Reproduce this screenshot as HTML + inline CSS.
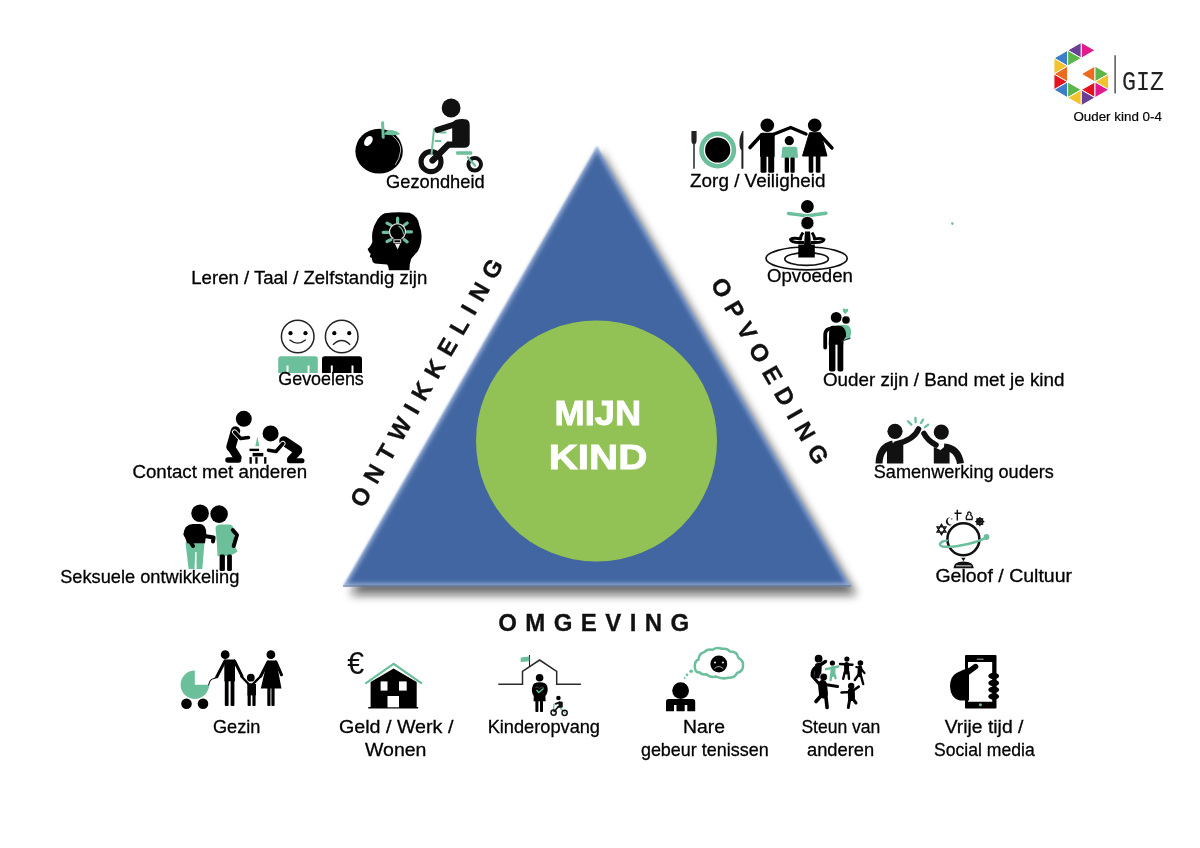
<!DOCTYPE html>
<html><head><meta charset="utf-8">
<style>
html,body{margin:0;padding:0;background:#fff;}
body{width:1200px;height:848px;overflow:hidden;position:relative;}
svg{position:absolute;left:0;top:0;will-change:transform;}
text{font-family:"Liberation Sans",sans-serif;fill:#000;}
.lb{font-size:18.5px;}
.lb text{stroke:#000;stroke-width:0.3px;}
</style></head><body>
<svg width="1200" height="848" viewBox="0 0 1200 848">
<defs>
<filter id="sh" x="-20%" y="-20%" width="140%" height="140%">
<feGaussianBlur stdDeviation="5"/>
</filter>
<filter id="soft" x="-10%" y="-10%" width="120%" height="120%">
<feGaussianBlur stdDeviation="2"/>
</filter>
<filter id="edge" x="-10%" y="-10%" width="120%" height="120%">
<feGaussianBlur stdDeviation="0.9"/>
</filter>
<clipPath id="triclip"><polygon points="597,146 851,586 343,586"/></clipPath>
</defs>

<!-- triangle shadow -->
<polygon points="601,152 857,595 350,595" fill="#0a0908" opacity="0.6" filter="url(#sh)"/>
<!-- triangle -->
<polygon points="597,146 851,586 343,586" fill="#94acd5" filter="url(#edge)"/>
<g clip-path="url(#triclip)">
<polygon points="597,151.5 846.2,583.2 347.8,583.2" fill="#4266a1" filter="url(#soft)"/>
</g>
<line x1="343" y1="586" x2="851" y2="586" stroke="#5a6f95" stroke-width="1.2"/>

<!-- circle -->
<circle cx="596.5" cy="441" r="120.5" fill="#92c255"/>
<text x="597.8" y="424.8" text-anchor="middle" style="font-size:35px;font-weight:bold;fill:#fff;stroke:#fff;stroke-width:0.9px" textLength="86.5" lengthAdjust="spacingAndGlyphs">MIJN</text>
<text x="598" y="469.3" text-anchor="middle" style="font-size:35px;font-weight:bold;fill:#fff;stroke:#fff;stroke-width:0.9px" textLength="98.5" lengthAdjust="spacingAndGlyphs">KIND</text>

<!-- side labels -->
<text x="0" y="0" transform="translate(363.2,509.1) rotate(-60)" style="font-size:24px;font-weight:bold;fill:#111;stroke:#111;stroke-width:0.3px" textLength="282" lengthAdjust="spacing">ONTWIKKELING</text>
<text x="0" y="0" transform="translate(710.1,283.65) rotate(60)" style="font-size:24px;font-weight:bold;fill:#111;stroke:#111;stroke-width:0.3px" textLength="211" lengthAdjust="spacing">OPVOEDING</text>
<text x="498.2" y="631" style="font-size:24px;font-weight:bold;fill:#111;stroke:#111;stroke-width:0.3px" textLength="191" lengthAdjust="spacing">OMGEVING</text>


<!-- GIZ logo -->
<text x="1073.4" y="120.8" style="font-size:13px;stroke:#000;stroke-width:0.2px" textLength="88.5" lengthAdjust="spacingAndGlyphs">Ouder kind 0-4</text>
<text x="1122" y="89.6" style="font-family:'Liberation Mono',monospace;font-size:27px;fill:#222" textLength="42" lengthAdjust="spacingAndGlyphs">GIZ</text>
<line x1="1115.1" y1="55.2" x2="1115.1" y2="93.6" stroke="#3a3a3a" stroke-width="1.3"/>

<circle cx="952.4" cy="223.6" r="1.3" fill="#6bbf9b"/>

<!-- ===== LEFT ICONS ===== -->
<!-- apple -->
<g>
<ellipse cx="379.1" cy="151.2" rx="23.7" ry="22.4" fill="#000"/>
<ellipse cx="368.4" cy="141" rx="3.6" ry="5.6" transform="rotate(35 368.4 141)" fill="#fff"/>
<path d="M392.5,135.7 Q401.5,143 400.6,151 Q399.5,159.5 395.2,164.8" fill="none" stroke="#fff" stroke-width="0.7"/>
<path d="M382.6,122.7 L383.2,137.2" stroke="#6bbf9b" stroke-width="3" stroke-linecap="round"/>
<path d="M384,134.5 Q386,129.5 392,130 Q397,131 400.5,134.3 Q393,136 384,134.5 Z" fill="#6bbf9b"/>
</g>
<!-- tricycle kid -->
<g>
<circle cx="451.1" cy="108" r="9.4" fill="#111"/>
<circle cx="431" cy="161.7" r="10" fill="none" stroke="#111" stroke-width="5.2"/>
<circle cx="474.7" cy="164.3" r="6.3" fill="none" stroke="#111" stroke-width="4"/>
<path d="M434,129 L431.5,154.2 M435.6,141.1 L440.6,141.1 M440,132.6 L445.6,132.6" stroke="#6bbf9b" stroke-width="2" stroke-linecap="round"/>
<path d="M467.7,157.2 L475.2,165.7" stroke="#6bbf9b" stroke-width="2.2" stroke-linecap="round"/>
<rect x="456.1" y="151.2" width="16.1" height="3.6" rx="1" fill="#6bbf9b"/>
<path d="M437.5,129.8 L462,122" stroke="#111" stroke-width="6" stroke-linecap="round"/>
<path d="M452.2,126 Q452.2,119.3 459,119.3 L464.5,119.3 Q469.7,119.3 469.7,125 L469.7,143 Q469.7,147.8 464,147.8 L447,147.8 L447,141.5 L452.2,141.5 Z" fill="#111"/>
<path d="M448,145 L432.5,160.5" stroke="#111" stroke-width="6.3" stroke-linecap="round"/>
</g>
<!-- head with bulb -->
<g>
<path d="M384.8,213.3 Q397,211.5 409.5,212.8 Q418.5,216.5 419.4,225.6 Q422,232 421.5,238 Q421,246 417.8,251.2 Q414,255.5 411.2,258.7 Q409.3,264 409.5,270.2 L388.9,270.2 Q388.5,266 387.2,264.4 Q380,264 374.9,263.6 Q372.4,262.5 372.4,261.1 L371.6,257.8 Q369.5,257 369.9,256.2 L370.7,253.7 Q368.8,252.5 368.7,251.2 Q367.5,249.5 367.8,248.8 Q369.5,247 370.7,245.4 Q372.3,243.5 372.4,241.3 Q371.8,236 372.4,232.2 Q373.5,225.5 376.5,221.5 Q379.5,215.5 384.8,213.3 Z" fill="#000"/>
<g stroke="#6bbf9b" stroke-width="3.2" stroke-linecap="round">
<path d="M397.6,218.2 L397.6,222.6 M387,223.2 L390.9,225.2 M407.2,223 L404.2,225.2 M383.2,232.3 L387.8,232.3 M406.8,231.8 L411.5,231.8 M387,241.5 L390.9,239.6 M407.2,241.9 L404.2,239.6"/>
</g>
<path d="M393.5,238.7 A8,8 0 1 1 401.5,238.7" fill="none" stroke="#e4e4e4" stroke-width="1.2"/>
<rect x="393.9" y="239.8" width="6.8" height="2.9" fill="#000" stroke="#e4e4e4" stroke-width="1"/>
<path d="M394.9,243.8 L400.3,243.8 L397.6,249.6 Z" fill="#f2f2f2"/>
<path d="M398.5,226 Q403,228.5 403.5,234.5" fill="none" stroke="#6bbf9b" stroke-width="1.1"/>
</g>
<!-- gevoelens -->
<g fill="none" stroke="#222" stroke-width="1.5">
<circle cx="297.7" cy="336.5" r="16.3"/>
<circle cx="341.7" cy="336.5" r="16.3"/>
<path d="M289.5,339.8 Q297.7,346.5 305.8,339.8" stroke-width="1.4"/>
<path d="M333,344.8 Q341.7,336.3 350.2,344.8" stroke-width="1.4"/>
</g>
<g fill="#000">
<circle cx="290.5" cy="333.2" r="2.1"/><circle cx="305.5" cy="333.2" r="2.1"/>
<circle cx="334.3" cy="333.2" r="2.1"/><circle cx="349.2" cy="333.2" r="2.1"/>
</g>
<path d="M278.2,373.1 L278.2,359 Q278.2,356.2 281,356.2 L315,356.2 Q317.8,356.2 317.8,359 L317.8,373.1 L309.5,373.1 L309.5,365.5 L307.6,365.5 L307.6,373.1 L288.5,373.1 L288.5,365.5 L286.5,365.5 L286.5,373.1 Z" fill="#6bbf9b"/>
<path d="M322,373.1 L322,359 Q322,356.2 324.8,356.2 L359.2,356.2 Q362,356.2 362,359 L362,373.1 L353.5,373.1 L353.5,365.5 L351.5,365.5 L351.5,373.1 L332.8,373.1 L332.8,365.5 L330.8,365.5 L330.8,373.1 Z" fill="#000"/>
<!-- contact met anderen -->
<g>
<circle cx="243.8" cy="418.8" r="8" fill="#000"/>
<circle cx="270.6" cy="433.4" r="8" fill="#000"/>
<path d="M235.5,431 L231,447" stroke="#000" stroke-width="9.5" stroke-linecap="round"/>
<path d="M231.5,448 L237.5,457.5" stroke="#000" stroke-width="8" stroke-linecap="round"/>
<path d="M238.5,460 L228,460" stroke="#000" stroke-width="5.5" stroke-linecap="round"/>
<path d="M234.6,432 L240.7,438.5 L248.5,437.6" fill="none" stroke="#fff" stroke-width="5.2" stroke-linecap="round" stroke-linejoin="round"/>
<path d="M234.6,432 L240.7,438.5 L248.5,437.6" fill="none" stroke="#000" stroke-width="3.5" stroke-linecap="round" stroke-linejoin="round"/>
<path d="M284,441 L297.5,450" stroke="#000" stroke-width="9.5" stroke-linecap="round"/>
<path d="M298,451.5 L291,459" stroke="#000" stroke-width="7.5" stroke-linecap="round"/>
<path d="M289.5,460.8 L302,460.8" stroke="#000" stroke-width="5" stroke-linecap="round"/>
<path d="M282.9,443.5 L276,451.5 L268.5,450.2" fill="none" stroke="#fff" stroke-width="5.2" stroke-linecap="round" stroke-linejoin="round"/>
<path d="M282.9,443.5 L276,451.5 L268.5,450.2" fill="none" stroke="#000" stroke-width="3.5" stroke-linecap="round" stroke-linejoin="round"/>
<rect x="249.5" y="448.7" width="9.6" height="2.4" fill="#000"/>
<rect x="252.6" y="452.9" width="10.7" height="3.5" fill="#000"/>
<rect x="249.5" y="457.1" width="2.3" height="6.6" fill="#000"/>
<rect x="255.3" y="457.1" width="2.3" height="6.6" fill="#000"/>
<rect x="264.1" y="457.1" width="2.3" height="6.6" fill="#000"/>
<path d="M257.3,436.4 L259.4,446.2 L255.4,446.2 Z" fill="#6bbf9b"/>
</g>
<!-- seksuele ontwikkeling -->
<g>
<path d="M185.5,542.4 L204.5,542.4 L202.3,569 L196.6,569 L196.6,552 L195.2,552 L194.5,569 L188.6,569 Z" fill="#6bbf9b"/>
<circle cx="200.1" cy="513.3" r="8.8" fill="#000"/>
<circle cx="219.1" cy="514.1" r="8.8" fill="#000"/>
<path d="M215.5,528 Q216,524.5 220.5,524.5 L229,524.5 Q233,524.8 233.5,528.5 L234.5,545 L237.5,551.5 Q232,556 224,556.2 L217.5,556 Q216.8,540 215.5,528 Z" fill="#6bbf9b"/>
<path d="M232.8,530 L237,535 L233.7,546" fill="none" stroke="#000" stroke-width="4" stroke-linecap="round" stroke-linejoin="round"/>
<rect x="219.6" y="554.5" width="5.3" height="16.5" rx="1.5" fill="#000"/>
<rect x="227.1" y="554.5" width="4.8" height="16.5" rx="1.5" fill="#000"/>
<path d="M183.3,534.5 Q184.5,524 193,523.9 L200,523.9 Q206.3,524.5 206.3,533.6 L205,543.3 L187,543.3 Q186,538 183.3,534.5 Z" fill="#000"/>
<path d="M186.5,536 L193,546" stroke="#000" stroke-width="4" stroke-linecap="round"/>
<path d="M204.5,536 L213.6,537.4 L213,541.5" fill="none" stroke="#000" stroke-width="4" stroke-linecap="round" stroke-linejoin="round"/>
</g>
<!-- ===== RIGHT ICONS ===== -->
<!-- zorg / veiligheid -->
<g>
<path d="M691.4,131 L696.6,131 L696.6,140 Q696.6,144 694,144.5 Q691.4,144 691.4,140 Z" fill="#222"/>
<rect x="693.2" y="143" width="1.6" height="25.7" fill="#333"/>
<circle cx="717.7" cy="150" r="16.2" fill="none" stroke="#6bbf9b" stroke-width="4.6"/>
<circle cx="717.7" cy="150" r="12.6" fill="#000"/>
<path d="M742.4,131 Q739,137 739.5,145 Q740,149.5 741.4,150 L741.4,168.7 L743.4,168.7 L743.4,131 Z" fill="#222"/>
<circle cx="767.3" cy="125.3" r="6.8" fill="#000"/>
<circle cx="814.7" cy="125.3" r="6.8" fill="#000"/>
<circle cx="789.3" cy="140.7" r="4.6" fill="#000"/>
<path d="M760,134.5 Q760,132.7 762,132.7 L772.7,132.7 Q774.7,132.7 774.7,134.5 L774.7,156.7 L760,156.7 Z" fill="#000"/>
<rect x="760.5" y="155" width="6" height="17.7" rx="1.5" fill="#000"/>
<rect x="768.2" y="155" width="6" height="17.7" rx="1.5" fill="#000"/>
<path d="M761,135.5 L750,147.5" stroke="#000" stroke-width="3.6" stroke-linecap="round"/>
<path d="M773,134.5 L790.7,127.5 L806,134" fill="none" stroke="#000" stroke-width="3.4" stroke-linecap="round" stroke-linejoin="round"/>
<path d="M809.5,132.7 L820.5,132.7 L827,156 L802.5,156 Z" fill="#000" stroke="#000" stroke-width="1" stroke-linejoin="round"/>
<rect x="808.7" y="154" width="4.6" height="18.7" rx="1.5" fill="#000"/>
<rect x="815.8" y="154" width="4.6" height="18.7" rx="1.5" fill="#000"/>
<path d="M820,135 L832,148" stroke="#000" stroke-width="3.4" stroke-linecap="round"/>
<path d="M782.3,148 Q782.3,146.7 784,146.7 L795,146.7 Q796.8,146.7 797.2,148 L798,157.8 L781.3,157.8 Z" fill="#6bbf9b"/>
<rect x="784.7" y="157.5" width="4.3" height="15.2" rx="1" fill="#000"/>
<rect x="790.4" y="157.5" width="4.3" height="15.2" rx="1" fill="#000"/>
</g>
<!-- opvoeden -->
<g>
<ellipse cx="806.6" cy="258.4" rx="40.6" ry="11.4" fill="none" stroke="#111" stroke-width="1.7"/>
<ellipse cx="806.6" cy="259" rx="21.8" ry="6.4" fill="none" stroke="#111" stroke-width="1.7"/>
<circle cx="807.4" cy="206.5" r="6.4" fill="#000"/>
<path d="M788.5,213.5 Q798,214.5 807,216 Q816,214.5 826,213.3" fill="none" stroke="#6bbf9b" stroke-width="3.4" stroke-linecap="round"/>
<circle cx="807.4" cy="223" r="6.6" fill="#000" stroke="#fff" stroke-width="0.8"/>
<rect x="798.3" y="244.5" width="16.5" height="13" fill="#000"/>
<path d="M805,231.5 L810,231.5 L811,245 L804,245 Z" fill="#000"/>
<path d="M803,232.5 Q800.5,236 800.5,239 Q793,237.5 790.5,239.5 Q791,242.5 800,242.5 L804,242.5" fill="none" stroke="#000" stroke-width="3" stroke-linejoin="round"/>
<path d="M812,232.5 Q814.5,236 814.5,239 Q822,237.5 824,239.5 Q823.5,242.5 815,242.5 L811,242.5" fill="none" stroke="#000" stroke-width="3" stroke-linejoin="round"/>
</g>
<!-- ouder zijn -->
<g>
<circle cx="836.2" cy="317.4" r="5.4" fill="#000"/>
<path d="M845,314 C842.5,311.5 842,309 844,308.6 C845,308.4 845.5,309.2 845.7,309.6 C846.2,309 847,308.5 847.8,309 C849.2,310 847.5,312.5 845,314 Z" fill="#6bbf9b"/>
<path d="M836.5,325.5 Q842,324 848,325.5 Q851.8,328 851,334 L849.5,339.5 L842.5,340.5 Z" fill="#6bbf9b"/>
<circle cx="846" cy="320" r="4.1" fill="#000" stroke="#fff" stroke-width="0.6"/>
<path d="M829.3,328.5 Q829.8,325.8 832.5,325.8 L838.5,325.8 Q842.8,326 843.5,331 L843.5,344.8 L828.7,344.8 Z" fill="#000"/>
<path d="M841,327.5 Q845,330 844.5,336 L841.5,340" fill="none" stroke="#000" stroke-width="3" stroke-linecap="round"/>
<path d="M828.8,329 Q825,330 825.2,336 L825.2,347.5" fill="none" stroke="#000" stroke-width="3.8" stroke-linecap="round"/>
<rect x="829" y="343" width="6.4" height="28.4" rx="2" fill="#000"/>
<rect x="837.5" y="343" width="5.8" height="28.4" rx="2" fill="#000"/>
<path d="M841.5,341.2 L850.5,338" stroke="#333" stroke-width="1.2"/>
</g>
<!-- samenwerking -->
<g>
<circle cx="895" cy="431.3" r="7.6" fill="#111"/>
<circle cx="941.3" cy="432.1" r="7.6" fill="#111"/>
<path d="M887,444.5 L903.3,442 L903.3,463.5 L887,463.5 Z" fill="#111"/>
<path d="M879,463.5 Q879.5,447 893,443.8" fill="none" stroke="#111" stroke-width="7"/>
<path d="M896,444 Q914,440 918.5,429" fill="none" stroke="#111" stroke-width="5.6" stroke-linecap="round"/>
<path d="M924,433.5 Q927.5,440.5 936,445" fill="none" stroke="#111" stroke-width="5.6" stroke-linecap="round"/>
<path d="M933.8,447 L940.5,450 L946,445.5 L949.6,446.5 L949.6,463.5 L933.8,463.5 Z" fill="#111"/>
<path d="M944,447 Q958,448 960.5,463.5" fill="none" stroke="#111" stroke-width="7"/>
<g stroke="#6bbf9b" stroke-width="2.3" stroke-linecap="round">
<path d="M908,421.2 L911.4,424.6 M915.4,418 L915.7,422.2 M923,419.6 L921,423 M928.3,424.6 L924.9,427.2"/>
</g>
</g>
<!-- geloof -->
<g>
<circle cx="963.4" cy="539.2" r="16" fill="none" stroke="#111" stroke-width="2.5"/>
<path d="M942.3,541.6 Q937.5,545 942.5,546.5 Q950,548 968,544 Q980,541 986.5,537.4" fill="none" stroke="#6bbf9b" stroke-width="2.4" stroke-linecap="round"/>
<path d="M942.3,541.6 L947,540.5" stroke="#6bbf9b" stroke-width="2.2" stroke-linecap="round"/>
<circle cx="986.5" cy="537" r="2.9" fill="#6bbf9b"/>
<path d="M961.2,557.8 L965.6,557.8 L963.4,561.3 Z" fill="#111"/>
<path d="M953.5,568.3 Q953.5,561.5 963.4,561.5 Q973.8,561.5 973.8,568.3 Z" fill="#111"/>
<rect x="956" y="565.3" width="15.3" height="1.1" fill="#fff" opacity="0.8"/>
<g fill="none" stroke="#111" stroke-width="1.3">
<path d="M941.5,524.4 L946,532.1 L937,532.1 Z M941.5,534.6 L946,526.9 L937,526.9 Z"/>
</g>
<path d="M950.5,517.5 A4,4 0 1 0 952.3,524.6 A3.2,3.2 0 1 1 950.5,517.5 Z" fill="#111"/>
<circle cx="951.8" cy="518.9" r="0.6" fill="#111"/>
<path d="M957.3,509.7 L957.3,520.4 M954.5,513.3 L961.6,513.3" stroke="#111" stroke-width="1.4"/>
<path d="M966.5,519.5 Q965.5,516 968,514.5 Q967,512 969.5,512 Q972,513 970.5,515 Q973,516 972,519.5 Z" fill="none" stroke="#111" stroke-width="1.3"/>
<circle cx="979.8" cy="521.6" r="3" fill="none" stroke="#111" stroke-width="1.6"/>
<g stroke="#111" stroke-width="1.2"><path d="M979.8,517 L979.8,526.2 M975.2,521.6 L984.4,521.6 M976.5,518.3 L983.1,524.9 M983.1,518.3 L976.5,524.9"/></g>
</g>
<!-- ===== BOTTOM ICONS ===== -->
<!-- gezin -->
<g>
<path d="M194.8,684.8 L194.8,670.6 A14.2,14.2 0 1 0 209,684.8 Z" fill="#6bbf9b"/>
<circle cx="186.5" cy="703.7" r="5.3" fill="#000"/>
<circle cx="203" cy="703.7" r="5.3" fill="#000"/>
<path d="M208.6,685.5 Q209.5,679 214,678.5 Q215.5,677.8 216.6,677.2" fill="none" stroke="#000" stroke-width="1.1"/>
<circle cx="225.2" cy="654.7" r="4.4" fill="#000"/>
<path d="M224.3,659.5 L235,659.5 L235,681.3 L224.3,681.3 Z" fill="#000"/>
<path d="M225,661 L216.8,676.8" stroke="#000" stroke-width="3" stroke-linecap="round"/>
<path d="M234.5,661 L242,676.2" stroke="#000" stroke-width="3" stroke-linecap="round"/>
<rect x="224.8" y="680" width="3.8" height="26" rx="1" fill="#000"/>
<rect x="230.6" y="680" width="3.8" height="26" rx="1" fill="#000"/>
<circle cx="250.8" cy="677.7" r="3.9" fill="#000"/>
<path d="M241.5,676.5 L249,684.5 L252.5,684.5 L260.5,676.5" fill="none" stroke="#000" stroke-width="2.4" stroke-linecap="round" stroke-linejoin="round"/>
<rect x="247.3" y="684" width="8.7" height="11.4" fill="#000"/>
<rect x="247.6" y="694" width="3.2" height="12" rx="0.8" fill="#000"/>
<rect x="252.4" y="694" width="3.2" height="12" rx="0.8" fill="#000"/>
<circle cx="270.9" cy="654.7" r="4.4" fill="#000"/>
<path d="M267.3,660.6 L276.2,660.6 L281.5,688.4 L260.8,688.4 Z" fill="#000"/>
<path d="M268,662 L260.8,676" stroke="#000" stroke-width="3" stroke-linecap="round"/>
<path d="M276,662 L281.5,674.8" stroke="#000" stroke-width="3" stroke-linecap="round"/>
<rect x="267.3" y="687" width="3.2" height="19" rx="0.8" fill="#000"/>
<rect x="271.4" y="687" width="3.2" height="19" rx="0.8" fill="#000"/>
</g>
<!-- geld / werk / wonen -->
<g>
<text x="347.2" y="673.6" style="font-size:30.5px;fill:#111">€</text>
<path d="M365.3,683.7 L393.6,663.8 L422,683.7" fill="none" stroke="#6bbf9b" stroke-width="2.2" stroke-linejoin="miter"/>
<path d="M370.6,682 L393.6,668.4 L416.7,682 L416.7,707 L418.2,707 L418.2,708.5 L368.3,708.5 L368.3,707 L370.6,707 Z" fill="#000"/>
<rect x="380.6" y="681.4" width="6.9" height="9.2" fill="#fff"/>
<rect x="399" y="681.4" width="7.7" height="9.2" fill="#fff"/>
<rect x="387.5" y="696" width="11.5" height="11.3" fill="#fff"/>
</g>
<!-- kinderopvang -->
<g>
<path d="M498.3,684.2 L522.5,684.2 L522.5,671.3 L539.6,660 L556.7,671.3 L556.7,684.2 L580.9,684.2" fill="none" stroke="#2a2a2a" stroke-width="1.5"/>
<path d="M529.5,655 L529.5,666.5" stroke="#222" stroke-width="1.1"/>
<path d="M520.7,657.5 L529.3,656.5 L529.3,661.3 L520.7,662 Z" fill="#6bbf9b"/>
<circle cx="539.6" cy="677.7" r="3.8" fill="#000"/>
<path d="M532.5,686.5 Q533,682.2 539.6,682.2 Q546.5,682.2 547.3,686.5 Q548.5,691 546,695.4 L533.2,695.4 Q531,691 532.5,686.5 Z" fill="#000"/>
<path d="M533.8,695 L545.4,695 L545.6,701.3 L533.6,701.3 Z" fill="#000"/>
<rect x="535.4" y="700.5" width="3" height="11.5" rx="0.8" fill="#000"/>
<rect x="540" y="700.5" width="3" height="11.5" rx="0.8" fill="#000"/>
<path d="M535.5,687.5 Q537,686 539.6,688.5 Q542.5,686 544,687.5" fill="none" stroke="#555" stroke-width="0.8"/>
<path d="M536.5,690 L538.8,692.5 L543.5,688.5" fill="none" stroke="#6bbf9b" stroke-width="1.4"/>
<circle cx="558.4" cy="698" r="2.3" fill="#000"/>
<path d="M554,704.2 L553.3,711 M560.4,708.3 L565,712.8" stroke="#6bbf9b" stroke-width="1.3" stroke-linecap="round"/>
<circle cx="553.6" cy="712.6" r="2.6" fill="none" stroke="#111" stroke-width="1.5"/>
<circle cx="564.6" cy="712.8" r="2.6" fill="none" stroke="#111" stroke-width="1.5"/>
<path d="M555.6,703.8 L559.5,702.3" stroke="#111" stroke-width="1.8" stroke-linecap="round"/>
<path d="M558.5,703 Q558.5,701.6 560,701.6 L561.5,701.6 Q562.8,701.6 562.8,703 L562.8,706.4 Q562.8,707.8 561.5,707.8 L557.5,707.8 L557.5,706 L558.5,706 Z" fill="#111"/>
<path d="M558,707 L554.2,711.5" stroke="#111" stroke-width="1.6" stroke-linecap="round"/>
</g>
<!-- nare gebeurtenissen -->
<g>
<circle cx="680.6" cy="690.6" r="8.4" fill="#000"/>
<path d="M666,711.3 L666,701.5 Q666,699 668.5,699 L692.7,699 Q695.2,699 695.2,701.5 L695.2,711.3 L687.3,711.3 L687.3,705 L684.7,705 L684.7,711.3 L676.5,711.3 L676.5,705 L674,705 L674,711.3 Z" fill="#000"/>
<path d="M700,672.5 Q695,673 694.8,667 Q694.5,661 698.5,659.5 Q698.8,653.5 704.5,652 Q707,648.5 712.5,649.7 Q717,647 722,648.8 Q727.5,648 730,651.5 Q737.5,651.5 738.3,657.8 Q743.5,660.5 743,665.5 Q743.5,671 737,673 Q735,678 728,677.7 Q722,679.5 716,676.5 Q710,678 706.3,674.2 Q701.5,675 700,672.5 Z" fill="none" stroke="#6bbf9b" stroke-width="2.5"/>
<circle cx="691.1" cy="671.3" r="1.8" fill="#6bbf9b"/>
<circle cx="687" cy="674.8" r="1.4" fill="#6bbf9b"/>
<circle cx="684.7" cy="678" r="0.9" fill="#6bbf9b"/>
<circle cx="718.8" cy="664" r="8.4" fill="#000"/>
<circle cx="715" cy="662.5" r="1.1" fill="#ddd"/>
<circle cx="722.9" cy="662.5" r="1.1" fill="#ddd"/>
<path d="M714.5,668.6 Q718.8,664.5 723.3,668.6" fill="none" stroke="#bbb" stroke-width="0.9"/>
</g>
<!-- steun van anderen -->
<g stroke="#000" stroke-linecap="round" stroke-linejoin="round" fill="none">
<circle cx="818.6" cy="658.7" r="3.9" fill="#000" stroke="none"/>
<path d="M818.3,666.5 L817.6,675" stroke-width="7"/>
<path d="M818.6,666 L825.5,661.5" stroke-width="3.4"/>
<path d="M816.5,667 Q812,669 812.2,675.5" stroke-width="3.4"/>
<circle cx="832.4" cy="663" r="2.6" fill="#000" stroke="none"/>
<g stroke="#6bbf9b">
<path d="M826,669.2 L838.3,666.5" stroke-width="2.4"/>
<path d="M833,668.5 L832.8,674.5" stroke-width="5"/>
<path d="M831.2,674.5 L830.6,680 M834.5,674.5 L835.6,678.2" stroke-width="2.4"/>
</g>
<circle cx="846.9" cy="659.1" r="2.6" fill="#000" stroke="none"/>
<path d="M840,664 L852.5,664.7" stroke-width="2.4"/>
<path d="M846.6,664.5 L846.6,672" stroke-width="5"/>
<path d="M844.8,672 L843.2,678.8 M848.4,672 L849,678.8" stroke-width="2.4"/>
<circle cx="860.4" cy="663" r="2.8" fill="#000" stroke="none"/>
<path d="M860,667.5 L859.5,675" stroke-width="4.4"/>
<path d="M856.3,667 L860.5,668 L864.5,673.2" stroke-width="2.2"/>
<path d="M858.3,675 L854.8,680 M860.8,675 L863.2,684" stroke-width="2.4"/>
<circle cx="823.6" cy="677.1" r="3.9" fill="#000" stroke="#fff" stroke-width="0.7"/>
<path d="M812.4,676.3 L818.8,683.5 L837.6,686.6" stroke-width="3"/>
<path d="M822.5,684.5 L823.5,694" stroke-width="9"/>
<path d="M820.8,696 L816,701.5 M825.8,696 L827.1,707.5" stroke-width="3.6"/>
<circle cx="851.2" cy="686" r="3.2" fill="#000" stroke="none"/>
<path d="M841.5,692.5 L851,692 L858.8,686.7" stroke-width="2.6"/>
<path d="M851.3,691.5 L851.5,697.5" stroke-width="7"/>
<path d="M849.8,699 L848.3,707.5 M853,699 L856,703" stroke-width="3"/>
</g>
<!-- vrije tijd / social media -->
<g>
<path d="M965,656 Q965,655 966,655 L995.5,655 Q996.5,655 996.5,656 L996.5,707.5 Q996.5,708.5 995.5,708.5 L966,708.5 Q965,708.5 965,707.5 Z M968,662 L968,701.8 L992.2,701.8 L992.2,662 Z" fill="#000" fill-rule="evenodd"/>
<rect x="976.7" y="658.6" width="7" height="1.4" rx="0.7" fill="#777"/>
<circle cx="980.4" cy="704.8" r="1.5" fill="#6bbf9b"/>
<path d="M967.5,672.5 L975.6,666.5" stroke="#000" stroke-width="5.4" stroke-linecap="round"/>
<path d="M969,667.8 L969,700.5 L960,700.5 Q950.5,698.5 950,686.5 Q950,676.5 956.5,673 Q962,670 969,667.8 Z" fill="#000"/>
<g fill="#000">
<ellipse cx="993.7" cy="676" rx="5.4" ry="3.2"/>
<ellipse cx="993.7" cy="682.9" rx="5.4" ry="3.2"/>
<ellipse cx="993.7" cy="689.8" rx="5.4" ry="3.2"/>
<ellipse cx="993.7" cy="696.5" rx="5.4" ry="3.2"/>
</g>
</g>

<!-- ===== GIZ LOGO ===== -->
<g id="giz" stroke="#fff" stroke-width="1" stroke-linejoin="miter"><polygon points="1067.62,50.30 1067.62,66.10 1053.93,58.20" fill="#3d7ec6"/><polygon points="1053.93,58.20 1053.93,74.00 1067.62,66.10" fill="#f3c22c"/><polygon points="1067.62,66.10 1067.62,81.90 1053.93,74.00" fill="#ec6b1f"/><polygon points="1053.93,74.00 1053.93,89.80 1067.62,81.90" fill="#e3131f"/><polygon points="1067.62,81.90 1067.62,97.70 1053.93,89.80" fill="#3d7ec6"/><polygon points="1081.30,42.40 1081.30,58.20 1067.62,50.30" fill="#6c3f97"/><polygon points="1067.62,50.30 1067.62,66.10 1081.30,58.20" fill="#5cb64a"/><polygon points="1067.62,81.90 1067.62,97.70 1081.30,89.80" fill="#5cb64a"/><polygon points="1081.30,89.80 1081.30,105.60 1067.62,97.70" fill="#f3c22c"/><polygon points="1081.30,42.40 1081.30,58.20 1094.98,50.30" fill="#e31a8e"/><polygon points="1094.98,66.10 1094.98,81.90 1081.30,74.00" fill="#ec6b1f"/><polygon points="1094.98,81.90 1094.98,97.70 1081.30,89.80" fill="#e3131f"/><polygon points="1081.30,89.80 1081.30,105.60 1094.98,97.70" fill="#6c3f97"/><polygon points="1094.98,66.10 1094.98,81.90 1108.67,74.00" fill="#5cb64a"/><polygon points="1108.67,74.00 1108.67,89.80 1094.98,81.90" fill="#f3c22c"/><polygon points="1094.98,81.90 1094.98,97.70 1108.67,89.80" fill="#e31a8e"/></g>
<!-- labels -->
<g class="lb">
<text x="386.1" y="187.9" textLength="98.6" lengthAdjust="spacingAndGlyphs">Gezondheid</text>
<text x="191.3" y="284.0" textLength="236.0" lengthAdjust="spacingAndGlyphs">Leren / Taal / Zelfstandig zijn</text>
<text x="278.3" y="384.9" textLength="85.5" lengthAdjust="spacingAndGlyphs">Gevoelens</text>
<text x="132.4" y="478.1" textLength="174.8" lengthAdjust="spacingAndGlyphs">Contact met anderen</text>
<text x="60.2" y="583.1" textLength="179.2" lengthAdjust="spacingAndGlyphs">Seksuele ontwikkeling</text>
<text x="690.1" y="186.6" textLength="135.3" lengthAdjust="spacingAndGlyphs">Zorg / Veiligheid</text>
<text x="767.1" y="282.3" textLength="85.7" lengthAdjust="spacingAndGlyphs">Opvoeden</text>
<text x="822.9" y="385.6" textLength="241.5" lengthAdjust="spacingAndGlyphs">Ouder zijn / Band met je kind</text>
<text x="873.8" y="477.6" textLength="180.1" lengthAdjust="spacingAndGlyphs">Samenwerking ouders</text>
<text x="935.4" y="581.9" textLength="136.7" lengthAdjust="spacingAndGlyphs">Geloof / Cultuur</text>
<text x="213.0" y="732.6" textLength="47.4" lengthAdjust="spacingAndGlyphs">Gezin</text>
<text x="338.9" y="732.6" textLength="114.5" lengthAdjust="spacingAndGlyphs">Geld / Werk /</text>
<text x="365.0" y="755.6" textLength="61.4" lengthAdjust="spacingAndGlyphs">Wonen</text>
<text x="487.7" y="732.6" textLength="112.3" lengthAdjust="spacingAndGlyphs">Kinderopvang</text>
<text x="683.1" y="732.6" textLength="41.9" lengthAdjust="spacingAndGlyphs">Nare</text>
<text x="640.9" y="755.6" textLength="127.8" lengthAdjust="spacingAndGlyphs">gebeur tenissen</text>
<text x="801.4" y="732.6" textLength="79.0" lengthAdjust="spacingAndGlyphs">Steun van</text>
<text x="807.0" y="755.6" textLength="67.2" lengthAdjust="spacingAndGlyphs">anderen</text>
<text x="944.7" y="732.6" textLength="78.7" lengthAdjust="spacingAndGlyphs">Vrije tijd /</text>
<text x="934.0" y="755.6" textLength="100.8" lengthAdjust="spacingAndGlyphs">Social media</text>
</g>
<!-- END -->
</svg>
</body></html>
